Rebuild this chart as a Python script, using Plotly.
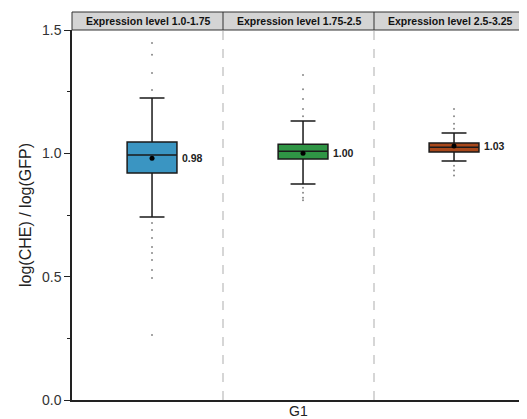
import plotly.graph_objects as go

# ---- data ----
groups = ["Expression level 1.0-1.75", "Expression level 1.75-2.5", "Expression level 2.5-3.25"]
q1 = [0.920, 0.977, 1.005]
median = [0.993, 1.008, 1.025]
q3 = [1.046, 1.037, 1.042]
lowerfence = [0.742, 0.876, 0.969]
upperfence = [1.224, 1.131, 1.082]
means = [0.98, 1.00, 1.03]
mean_labels = ["0.98", "1.00", "1.03"]
outliers = [
    [1.447, 1.40, 1.326, 1.257, 0.718, 0.689, 0.657, 0.62, 0.596, 0.568, 0.527, 0.495, 0.264],
    [1.318, 1.26, 1.22, 1.18, 1.15, 0.86, 0.84, 0.82, 0.81],
    [1.18, 1.15, 1.12, 1.10, 0.95, 0.93, 0.91],
]
colors = ["#3a95c2", "#2f9545", "#a8471a"]
x_label = "G1"
y_title = "log(CHE) / log(GFP)"

fig = go.Figure()
off = 0.03
for i in range(3):
    fig.add_trace(go.Box(
        x=[i + off], q1=[q1[i]], median=[median[i]], q3=[q3[i]],
        lowerfence=[lowerfence[i]], upperfence=[upperfence[i]],
        width=0.33, fillcolor=colors[i],
        line=dict(color="#1a1a1a", width=1.5), whiskerwidth=0.5,
        boxpoints=False, showlegend=False, hoverinfo="skip",
    ))
    fig.add_trace(go.Scatter(
        x=[i + off] * len(outliers[i]), y=outliers[i], mode="markers",
        marker=dict(color="#888888", size=2), showlegend=False, hoverinfo="skip",
    ))
    fig.add_trace(go.Scatter(
        x=[i + off], y=[means[i]], mode="markers",
        marker=dict(color="black", size=5), showlegend=False, hoverinfo="skip",
    ))
    fig.add_annotation(x=i + off + 0.165, y=means[i], text="<b>%s</b>" % mean_labels[i],
                       showarrow=False, xanchor="left", xshift=3,
                       font=dict(size=10.5, color="#222222", family="Liberation Sans, Arial"))
    fig.add_annotation(x=i, y=1, xref="x", yref="paper", yanchor="bottom", yshift=1,
                       text="<b>%s</b>" % groups[i], showarrow=False,
                       font=dict(size=10.5, color="#111111", family="Liberation Sans, Arial"))

shapes = []
hdr = 18 / 370
shapes.append(dict(type="rect", xref="paper", yref="paper", x0=0, x1=1, y0=1, y1=1 + hdr,
                   fillcolor="#d4d4d4", line=dict(color="#333333", width=1), layer="below"))
for k in (1 / 3, 2 / 3):
    shapes.append(dict(type="line", xref="paper", yref="paper", x0=k, x1=k, y0=1, y1=1 + hdr,
                       line=dict(color="#333333", width=1)))
for xv in (0.5, 1.5):
    shapes.append(dict(type="line", xref="x", yref="paper", x0=xv, x1=xv, y0=0, y1=1,
                       line=dict(color="#bbbbbb", width=1.2, dash="dash"), layer="below"))
fig.update_layout(shapes=shapes)

fig.add_annotation(x=0.5, y=0, xref="paper", yref="paper", yanchor="top", yshift=-1,
                   text=x_label, showarrow=False,
                   font=dict(size=14, color="#222222", family="Liberation Sans, Arial"))

fig.update_layout(
    width=519, height=411,
    margin=dict(l=64, r=2, t=22, b=19),
    paper_bgcolor="white", plot_bgcolor="white",
    font=dict(family="Liberation Sans, Arial", color="#222222"),
    xaxis=dict(range=[-0.5, 2.5], showticklabels=False, ticks="", showgrid=False,
               zeroline=False, showline=True, linecolor="#222222", linewidth=1.5),
    yaxis=dict(range=[0, 1.5], tickvals=[0, 0.5, 1.0, 1.5], ticktext=["0.0", "0.5", "1.0", "1.5"],
               ticks="outside", ticklen=6, tickwidth=1.2, tickcolor="#222222",
               minor=dict(tickvals=[0.25, 0.75, 1.25], ticks="outside", ticklen=3,
                          tickcolor="#222222", tickwidth=1.2),
               showgrid=False, zeroline=False, showline=True, linecolor="#222222", linewidth=1.5,
               tickfont=dict(size=14, color="#333333"),
               title=dict(text=y_title, font=dict(size=16, color="#222222"), standoff=6)),
)

fig.write_html("out.html")
